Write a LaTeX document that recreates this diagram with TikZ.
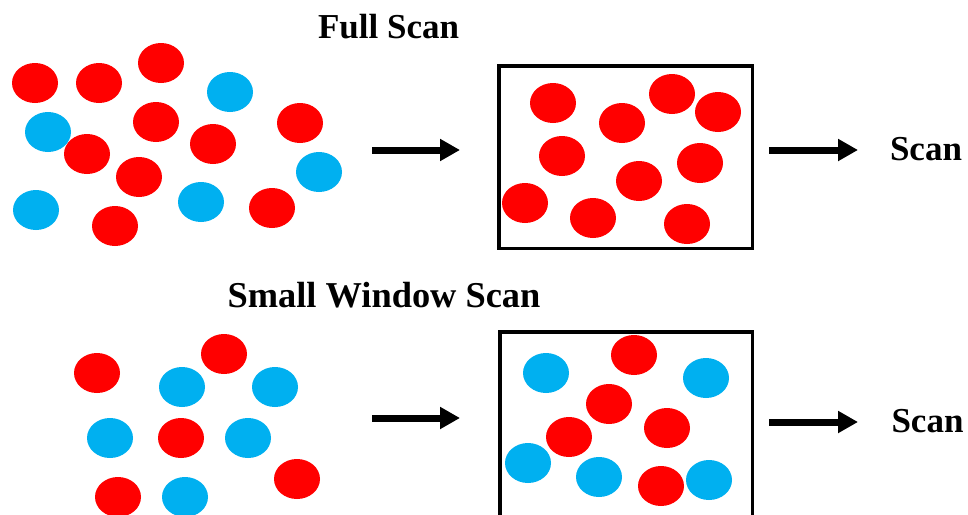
\documentclass[tikz,border=0pt]{standalone}
\usepackage{fontspec}
\setmainfont{Liberation Serif}
\usetikzlibrary{shapes.geometric,arrows.meta}
\definecolor{ballred}{HTML}{FF0000}
\definecolor{ballblue}{HTML}{00B0F0}
\tikzset{
  ball/.style={ellipse, minimum width=46pt, minimum height=40pt, inner sep=0pt, draw=none},
  rb/.style={ball, fill=ballred},
  bb/.style={ball, fill=ballblue},
  frame/.style={draw=black, line width=3.5pt},
  bigarrow/.style={line width=7pt, -{Triangle[length=20pt,width=21pt]}},
  title/.style={font=\fontsize{35}{40}\selectfont\bfseries, anchor=base, inner sep=0pt},
}
\begin{document}
\begin{tikzpicture}[x=1pt, y=-1pt]
\useasboundingbox (0,0) rectangle (968,514);
\clip (0,0) rectangle (968,514);
\fill[white] (0,0) rectangle (968,514);

% ---------- Full scan: loose mixture ----------
\node[title] (ttop) at (388.5,38) {Full Scan};
\node[rb] (m1)  at (35,83)   {};
\node[rb] (m2)  at (99,83)   {};
\node[rb] (m3)  at (161,63)  {};
\node[bb] (m4)  at (230,92)  {};
\node[bb] (m5)  at (48,132)  {};
\node[rb] (m6)  at (156,122) {};
\node[rb] (m7)  at (300,123) {};
\node[rb] (m8)  at (87,154)  {};
\node[rb] (m9)  at (213,144) {};
\node[rb] (m10) at (139,177) {};
\node[bb] (m11) at (319,172) {};
\node[bb] (m12) at (36,210)  {};
\node[bb] (m13) at (201,202) {};
\node[rb] (m14) at (272,208) {};
\node[rb] (m15) at (115,226) {};

% arrow into the window
\coordinate (a1s) at (372,150);
\coordinate (a1e) at (460,150);
\draw[bigarrow] (a1s) -- (a1e);

% window holding the selected balls
\node[frame, minimum width=253.5pt, minimum height=182.5pt, inner sep=0pt] (box1) at (625.5,157) {};
\node[rb] (w1)  at (553,103) {};
\node[rb] (w2)  at (622,123) {};
\node[rb] (w3)  at (672,94)  {};
\node[rb] (w4)  at (718,112) {};
\node[rb] (w5)  at (562,156) {};
\node[rb] (w6)  at (639,181) {};
\node[rb] (w7)  at (700,163) {};
\node[rb] (w8)  at (525,203) {};
\node[rb] (w9)  at (593,218) {};
\node[rb] (w10) at (687,224) {};

% arrow to the scan
\coordinate (a2s) at (769,150);
\coordinate (a2e) at (858,150);
\draw[bigarrow] (a2s) -- (a2e);
\node[title] (scan1) at (926,160) {Scan};

% ---------- Small window scan ----------
\node[title, font=\fontsize{36.4}{41}\selectfont\bfseries] (tbot) at (384,307) {Small Window Scan};
\node[rb] (s1)  at (97,373)  {};
\node[rb] (s2)  at (224,354) {};
\node[bb] (s3)  at (182,387) {};
\node[bb] (s4)  at (275,387) {};
\node[bb] (s5)  at (110,438) {};
\node[rb] (s6)  at (181,438) {};
\node[bb] (s7)  at (248,438) {};
\node[rb] (s8)  at (297,479) {};
\node[rb] (s9)  at (118,497) {};
\node[bb] (s10) at (185,497) {};

\coordinate (b1s) at (372,418);
\coordinate (b1e) at (460,418);
\draw[bigarrow] (b1s) -- (b1e);

\node[frame, minimum width=252.5pt, minimum height=200pt, inner sep=0pt] (box2) at (626,431.75) {};
\node[bb] (v1)  at (546,373) {};
\node[rb] (v2)  at (634,355) {};
\node[bb] (v3)  at (706,378) {};
\node[rb] (v4)  at (609,404) {};
\node[rb] (v5)  at (667,428) {};
\node[rb] (v6)  at (569,437) {};
\node[bb] (v7)  at (528,463) {};
\node[bb] (v8)  at (599,477) {};
\node[rb] (v9)  at (661,486) {};
\node[bb] (v10) at (709,480) {};

\coordinate (b2s) at (769,422);
\coordinate (b2e) at (858,422);
\draw[bigarrow] (b2s) -- (b2e);
\node[title] (scan2) at (927.5,432) {Scan};
\end{tikzpicture}
\end{document}
